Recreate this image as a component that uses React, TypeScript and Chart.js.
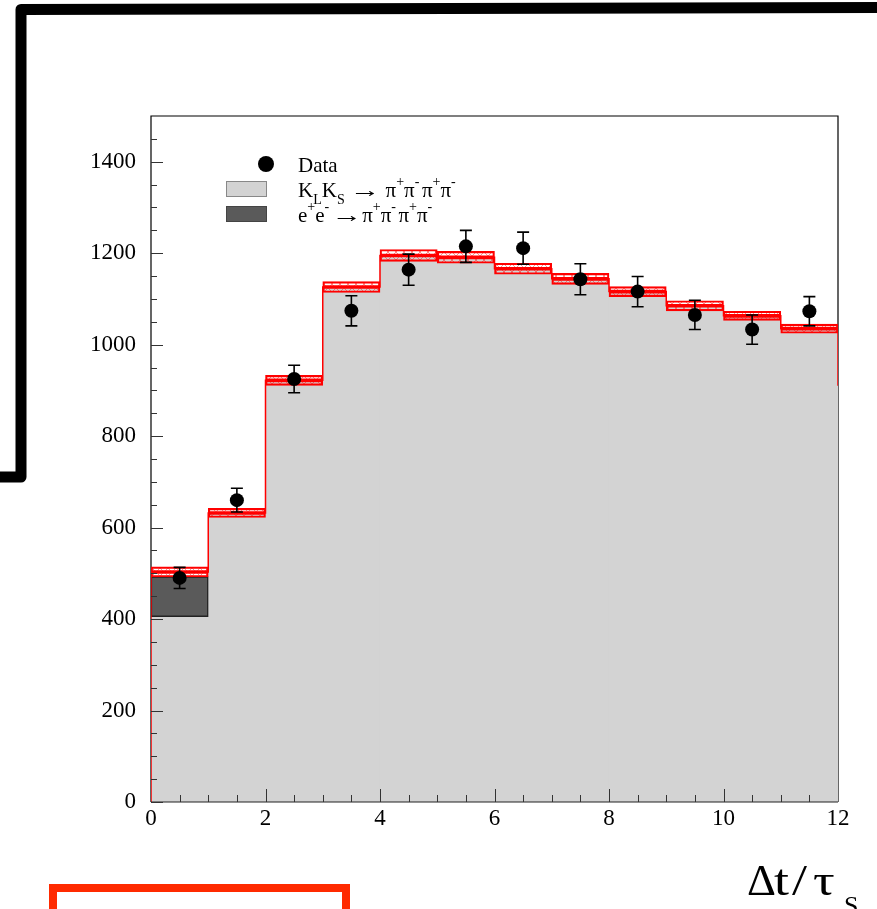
import React, { useEffect, useRef } from "react";
import { Chart, registerables } from "chart.js";

Chart.register(...registerables);

// ---- data ----
const binCenters = [0.5, 1.5, 2.5, 3.5, 4.5, 5.5, 6.5, 7.5, 8.5, 9.5, 10.5, 11.5];
const binEdges = [0, 1, 2, 3, 4, 5, 6, 7, 8, 9, 10, 11, 12];
const klksCounts = [405, 632, 922, 1126, 1195, 1191, 1166, 1144, 1116, 1085, 1063, 1035];
const eeCounts = [88, 0, 0, 0, 0, 0, 0, 0, 0, 0, 0, 0];
const mcTotal = [503, 632, 922, 1126, 1195, 1191, 1166, 1144, 1116, 1085, 1063, 1035];
const mcErr = [11, 10, 11, 12, 13, 13, 12, 12, 11, 11, 10, 10];
const dataCounts = [490, 660, 925, 1074, 1164, 1215, 1211, 1143, 1116, 1065, 1033, 1073];
const dataErr = [23, 26, 30, 33, 34, 35, 35, 34, 33, 32, 32, 32];
const rightEdgeCut = 910;

const yMin = 0;
const yMax = 1500;
const yMajorStep = 200;
const yMinorStep = 50;
const xMin = 0;
const xMax = 12;
const xMajorStep = 2;
const xMinorStep = 0.5;

const legendData = "Data";
type Seg = [string, "n" | "sub" | "sup"];
const legendKlks: Seg[] = [
  ["K", "n"], ["L", "sub"], ["K", "n"], ["S", "sub"], [" ", "n"], ["\u2192", "n"], [" ", "n"],
  ["\u03c0", "n"], ["+", "sup"], ["\u03c0", "n"], ["-", "sup"],
  ["\u03c0", "n"], ["+", "sup"], ["\u03c0", "n"], ["-", "sup"],
];
const legendEe: Seg[] = [
  ["e", "n"], ["+", "sup"], ["e", "n"], ["-", "sup"], ["\u2192", "n"],
  ["\u03c0", "n"], ["+", "sup"], ["\u03c0", "n"], ["-", "sup"],
  ["\u03c0", "n"], ["+", "sup"], ["\u03c0", "n"], ["-", "sup"],
];
const axisTitleMain = ["\u0394", "t", "/", "\u03c4"];
const axisTitleSub = "S";

const SERIF = '"Liberation Serif", "Times New Roman", serif';
const RED = "#ff0000";

function drawRich(ctx: CanvasRenderingContext2D, x: number, y: number, segs: Seg[], size: number) {
  ctx.textBaseline = "alphabetic";
  ctx.textAlign = "left";
  for (const [t, k] of segs) {
    const s = k === "n" ? size : 14;
    ctx.font = `${s}px ${SERIF}`;
    const dy = k === "sub" ? 7 : k === "sup" ? -11 : 0;
    const w = ctx.measureText(t).width;
    if (t === "\u2192") {
      ctx.save();
      ctx.translate(x, y + dy);
      ctx.scale(1.45, 1);
      ctx.fillText(t, 0, 0);
      ctx.restore();
      x += w * 1.45;
    } else {
      ctx.fillText(t, x, y + dy);
      x += w + (k === "sup" && t === "-" ? 2.5 : 0);
    }
  }
}

const decorPlugin = {
  id: "decor",
  beforeDatasetsDraw(chart: any) {
    const { ctx, chartArea } = chart;
    const { left, right, top, bottom } = chartArea;
    ctx.save();
    ctx.strokeStyle = "#000";
    ctx.lineWidth = 1.2;
    ctx.beginPath();
    ctx.moveTo(left, bottom);
    ctx.lineTo(left, top);
    ctx.lineTo(right, top);
    ctx.lineTo(right, bottom);
    ctx.stroke();
    ctx.restore();
  },
  afterDatasetsDraw(chart: any) {
    const { ctx, chartArea, scales } = chart;
    const { left, right, bottom } = chartArea;
    const xs = scales.x;
    const ys = scales.y;
    ctx.save();
    ctx.strokeStyle = "#222";
    ctx.lineWidth = 1.2;
    ctx.beginPath();
    ctx.moveTo(left, bottom);
    ctx.lineTo(right, bottom);
    ctx.stroke();
    ctx.strokeStyle = "#333";
    ctx.lineWidth = 1;
    ctx.beginPath();
    for (let v = yMin; v < yMax; v += yMinorStep) {
      const py = Math.round(ys.getPixelForValue(v)) + 0.5;
      const len = v % yMajorStep === 0 ? 12 : 6;
      ctx.moveTo(left, py);
      ctx.lineTo(left + len, py);
    }
    for (let v = xMin + xMinorStep; v < xMax; v += xMinorStep) {
      const px = Math.round(xs.getPixelForValue(v)) + 0.5;
      const len = v % xMajorStep === 0 ? 13 : 7;
      ctx.moveTo(px, bottom);
      ctx.lineTo(px, bottom - len);
    }
    ctx.stroke();
    const meta = chart.getDatasetMeta(0);
    ctx.strokeStyle = "#000";
    ctx.lineWidth = 1.6;
    ctx.beginPath();
    meta.data.forEach((pt: any, i: number) => {
      const px = pt.x;
      const y1 = ys.getPixelForValue(dataCounts[i] + dataErr[i]);
      const y2 = ys.getPixelForValue(dataCounts[i] - dataErr[i]);
      ctx.moveTo(px, y1);
      ctx.lineTo(px, y2);
      ctx.moveTo(px - 6, y1);
      ctx.lineTo(px + 6, y1);
      ctx.moveTo(px - 6, y2);
      ctx.lineTo(px + 6, y2);
    });
    ctx.stroke();
    ctx.restore();
  },
  afterDraw(chart: any) {
    const { ctx } = chart;
    ctx.save();
    ctx.fillStyle = "#000";
    ctx.beginPath();
    ctx.arc(266, 164, 8, 0, Math.PI * 2);
    ctx.fill();
    ctx.font = `21px ${SERIF}`;
    ctx.textBaseline = "alphabetic";
    ctx.textAlign = "left";
    ctx.fillText(legendData, 298, 172);
    ctx.fillStyle = "#d3d3d3";
    ctx.fillRect(226, 181, 41, 16);
    ctx.strokeStyle = "#888";
    ctx.lineWidth = 1;
    ctx.strokeRect(226.5, 181.5, 40, 15);
    ctx.fillStyle = "#5a5a5a";
    ctx.fillRect(226, 206, 41, 16);
    ctx.strokeStyle = "#444";
    ctx.strokeRect(226.5, 206.5, 40, 15);
    ctx.fillStyle = "#000";
    drawRich(ctx, 298, 197, legendKlks, 21);
    drawRich(ctx, 298, 222, legendEe, 21);
    // axis title
    const tx = [747, 774, 792, 813];
    ctx.font = `45px ${SERIF}`;
    axisTitleMain.forEach((t, i) => {
      ctx.save();
      ctx.translate(tx[i], 895);
      ctx.scale(i === 0 ? 1 : 1.2, 1);
      ctx.fillText(t, 0, 0);
      ctx.restore();
    });
    ctx.font = `26px ${SERIF}`;
    ctx.fillText(axisTitleSub, 844, 914);
    // slide decorations
    ctx.strokeStyle = "#000";
    ctx.lineWidth = 11;
    ctx.lineJoin = "round";
    ctx.lineCap = "butt";
    ctx.beginPath();
    ctx.moveTo(0, 477);
    ctx.lineTo(21, 477);
    ctx.lineTo(21, 9.5);
    ctx.lineTo(877, 7.5);
    ctx.stroke();
    ctx.strokeStyle = "rgb(255,42,0)";
    ctx.lineWidth = 8;
    ctx.lineJoin = "miter";
    ctx.beginPath();
    ctx.moveTo(53, 912);
    ctx.lineTo(53, 888);
    ctx.lineTo(346, 888);
    ctx.lineTo(346, 912);
    ctx.stroke();
    ctx.restore();
  },
};

export default function App() {
  const ref = useRef<HTMLCanvasElement | null>(null);
  useEffect(() => {
    const canvas = ref.current;
    if (!canvas) return;
    const ctx2 = canvas.getContext("2d")!;
    const pc = document.createElement("canvas");
    pc.width = 8;
    pc.height = 8;
    const p = pc.getContext("2d")!;
    p.strokeStyle = "rgba(255,0,0,0.5)";
    p.lineWidth = 0.9;
    p.beginPath();
    p.moveTo(0, 8);
    p.lineTo(8, 0);
    p.moveTo(0, 0);
    p.lineTo(8, 8);
    p.stroke();
    const hatch = ctx2.createPattern(pc, "repeat") as CanvasPattern;

    const outline: { x: number; y: number }[] = [{ x: binEdges[0], y: 0 }];
    mcTotal.forEach((v, i) => {
      outline.push({ x: binEdges[i], y: v });
      outline.push({ x: binEdges[i + 1], y: v });
    });
    outline.push({ x: binEdges[binEdges.length - 1], y: rightEdgeCut });

    const barCommon = {
      type: "bar" as const,
      grouped: false,
      barPercentage: 1,
      categoryPercentage: 1,
    };

    const chart = new Chart(canvas, {
      type: "bar",
      data: {
        datasets: [
          {
            type: "line",
            label: "Data",
            data: binCenters.map((x, i) => ({ x, y: dataCounts[i] })),
            showLine: false,
            pointRadius: 7,
            pointBackgroundColor: "#000",
            pointBorderWidth: 0,
            borderColor: "#000",
            order: 0,
          } as any,
          {
            ...barCommon,
            label: "MC error up",
            data: binCenters.map((x, i) => ({ x, y: [mcTotal[i], mcTotal[i] + mcErr[i]] })),
            backgroundColor: hatch,
            borderColor: RED,
            borderWidth: 1.5,
            borderSkipped: false,
            order: 1,
          } as any,
          {
            ...barCommon,
            label: "MC error down",
            data: binCenters.map((x, i) => ({ x, y: [mcTotal[i] - mcErr[i], mcTotal[i]] })),
            backgroundColor: hatch,
            borderColor: RED,
            borderWidth: 1.5,
            borderSkipped: false,
            order: 1,
          } as any,
          {
            type: "line",
            label: "MC outline",
            data: outline,
            borderColor: RED,
            borderWidth: 1.5,
            pointRadius: 0,
            fill: false,
            tension: 0,
            order: 2,
          } as any,
          {
            ...barCommon,
            label: "e+e- -> 4pi",
            data: binCenters
              .map((x, i) => (eeCounts[i] > 0 ? { x, y: [klksCounts[i], klksCounts[i] + eeCounts[i]] } : null))
              .filter(Boolean),
            backgroundColor: "#5a5a5a",
            borderColor: "#222",
            borderWidth: 1.5,
            borderSkipped: false,
            order: 3,
          } as any,
          {
            ...barCommon,
            label: "KL KS -> 4pi",
            data: binCenters.map((x, i) => ({ x, y: [0, klksCounts[i]] })),
            backgroundColor: "#d3d3d3",
            borderWidth: 0,
            order: 4,
          } as any,
        ],
      },
      options: {
        responsive: false,
        animation: false,
        events: [],
        layout: { padding: { left: 0, right: 39, top: 116, bottom: 0 } },
        plugins: { legend: { display: false }, tooltip: { enabled: false }, title: { display: false } },
        scales: {
          x: {
            type: "linear",
            min: xMin,
            max: xMax,
            offset: false,
            grid: { display: false, drawTicks: false },
            border: { display: false },
            ticks: {
              stepSize: xMajorStep,
              color: "#000",
              font: { family: SERIF, size: 23 },
              padding: 3,
              maxRotation: 0,
              callback: (v: any) => String(v),
            },
            afterFit: (s: any) => {
              s.height = 107;
            },
          },
          y: {
            type: "linear",
            min: yMin,
            max: yMax,
            grid: { display: false, drawTicks: false },
            border: { display: false },
            ticks: {
              stepSize: yMajorStep,
              includeBounds: false,
              color: "#000",
              font: { family: SERIF, size: 23 },
              padding: 15,
              callback: (v: any) => String(v),
            },
            afterFit: (s: any) => {
              s.width = 151;
            },
          },
        },
      } as any,
      plugins: [decorPlugin],
    });
    return () => chart.destroy();
  }, []);

  return (
    <div style={{ position: "fixed", left: 0, top: 0, width: 877, height: 909, background: "#fff" }}>
      <canvas ref={ref} width={877} height={909} style={{ width: 877, height: 909, display: "block" }} />
    </div>
  );
}
